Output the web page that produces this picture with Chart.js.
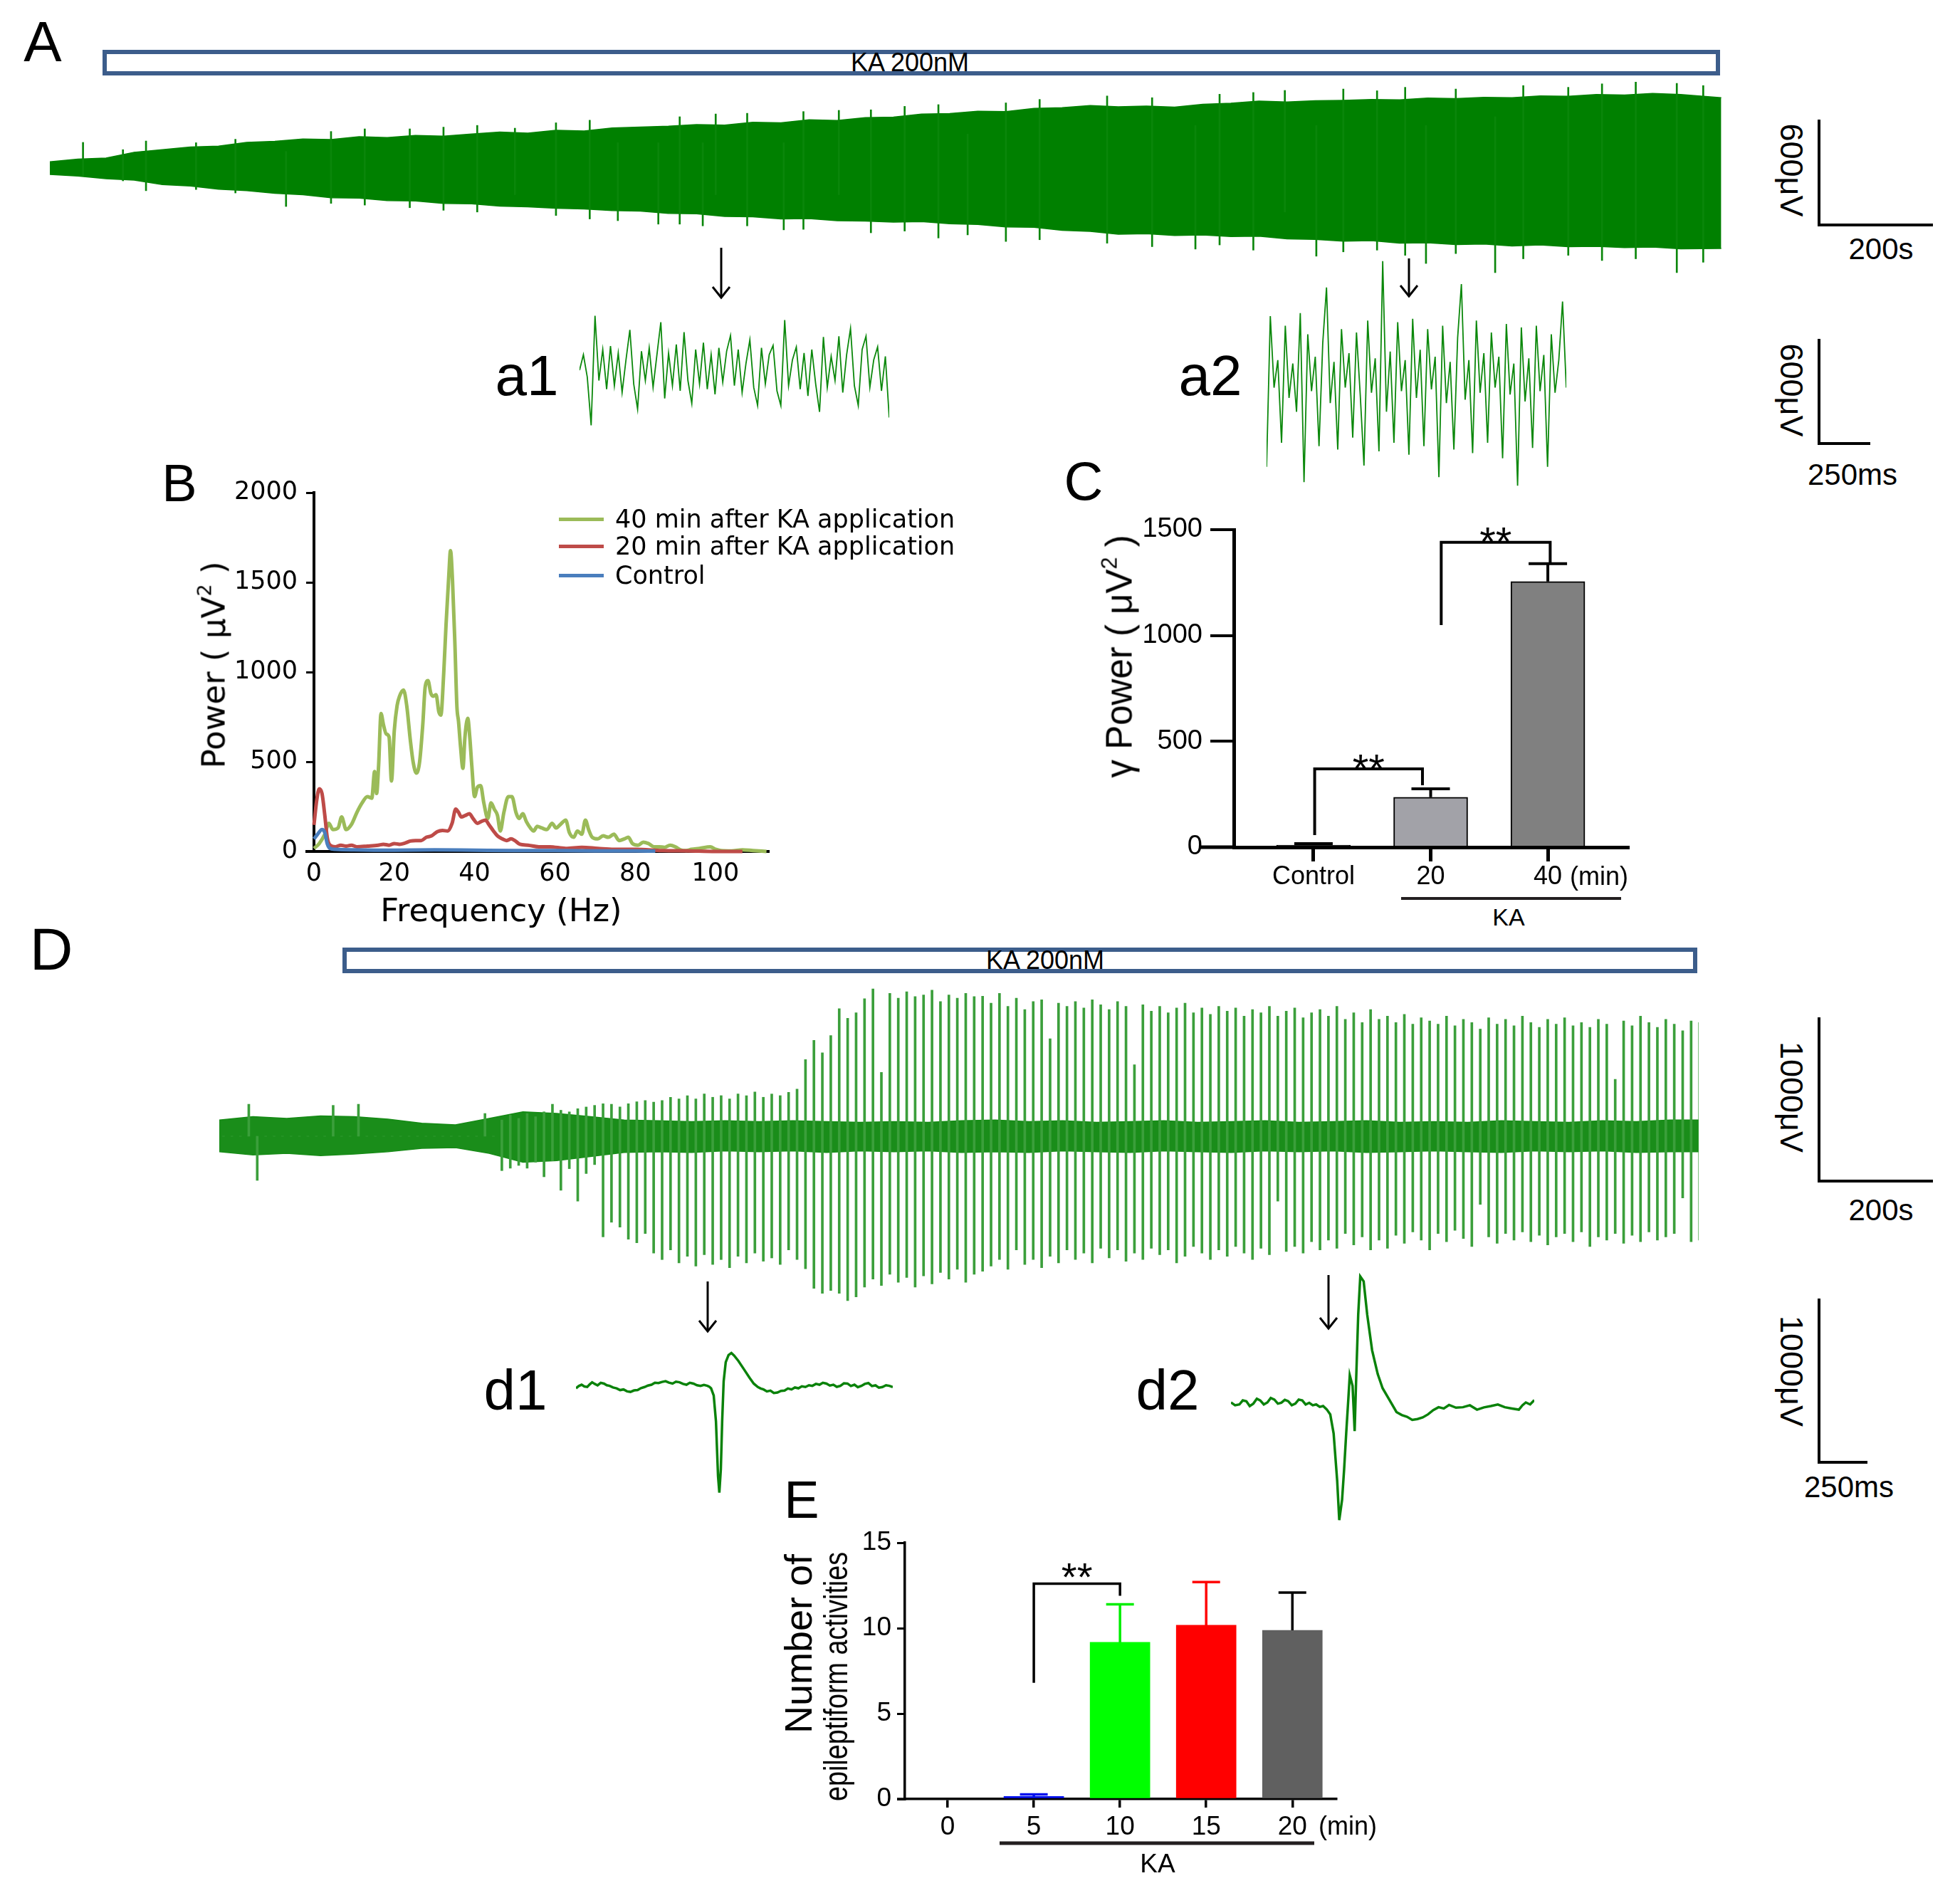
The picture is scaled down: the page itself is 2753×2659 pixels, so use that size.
<!DOCTYPE html>
<html>
<head>
<meta charset="utf-8">
<title>Kainate-induced gamma oscillations and epileptiform activity</title>
<script src="https://cdn.jsdelivr.net/npm/chart.js@4.4.1/dist/chart.umd.min.js"></script>
<style>
  html, body { margin:0; padding:0; background:#fff; }
  body { position:relative; width:2753px; height:2659px; overflow:hidden; }
  canvas { position:absolute; }
  .lbl { position:absolute; white-space:nowrap; line-height:1; color:#000; font-family:"Liberation Sans", Arial, sans-serif; }
  .kabox { position:absolute; box-sizing:border-box; border:6px solid #3c5d8b; background:#fff; }
  svg.ov { position:absolute; left:0; top:0; }
</style>
</head>
<body>
<script>
// ================= DATA =================
// Panel A : envelope of the 50-min field recording (uV), sampled every 50 s
const aTime  = [0,50,100,150,200,250,300,350,400,450,500,550,600,650,700,750,800,850,900,950,1000,1050,1100,1150,1200,1250,1300,1350,1400,1450,1500,1550,1600,1650,1700,1750,1800,1850,1900,1950,2000,2050,2100,2150,2200,2250,2300,2350,2400,2450,2500,2550,2600,2650,2700,2750,2800,2850,2900,2972];
const aUpper = [40,55,62,95,110,125,130,152,158,172,168,185,180,192,188,200,212,205,222,218,235,240,245,255,252,268,265,282,278,295,298,315,318,332,330,348,352,365,358,362,355,372,378,390,385,392,395,400,398,408,405,412,410,420,418,428,425,435,428,410];
const aLower = [-33,-42,-58,-66,-92,-100,-118,-126,-142,-150,-168,-170,-184,-186,-200,-203,-216,-220,-228,-232,-242,-245,-258,-260,-275,-278,-290,-288,-300,-302,-308,-305,-318,-322,-336,-338,-356,-362,-378,-375,-385,-382,-392,-390,-405,-408,-418,-415,-430,-428,-438,-435,-446,-440,-450,-448,-455,-452,-462,-460];
// protruding deflections of trace A (s, uV)
const aSpikeTime = [59,130,171,260,330,420,500,560,640,700,760,827,900,960,1010,1082,1120,1161,1184,1240,1305,1340,1403,1460,1520,1580,1632,1700,1760,1880,1960,2037,2080,2140,2196,2252,2300,2360,2410,2447,2500,2570,2620,2700,2760,2820,2893,2940];
const aSpikeLow  = [-40,-70,-127,-120,-140,-218,-200,-210,-225,-240,-250,-150,-270,-290,-300,-320,-320,-330,-150,-330,-353,-350,-150,-370,-360,-400,-382,-420,-410,-430,-450,-464,-440,-470,-250,-505,-480,-470,-500,-547,-490,-600,-520,-500,-530,-520,-600,-540];
const aSpikeHigh = [152,110,160,150,170,100,215,230,230,240,250,234,265,280,150,150,300,150,316,320,150,330,337,340,360,370,200,380,400,420,410,250,430,440,452,250,460,450,470,250,460,300,480,470,490,500,493,480];
// a1 / a2 : successive peaks and troughs of the expanded traces (uV)
const a1Trace = [0,90,-40,-320,316,-60,120,-110,140,-90,100,-130,60,234,-80,-226,110,-60,130,-100,90,279,-164,100,-90,150,-120,221,-60,-193,120,-80,160,-110,90,-140,130,-70,110,201,-90,120,-130,40,176,-100,-205,130,-80,90,144,-120,-205,291,-90,60,135,-110,100,-150,120,-80,-242,193,-100,80,-60,197,-130,90,242,-90,-205,120,197,-100,60,135,-120,80,-275];
const a2Trace = [-520,356,-60,100,-380,300,-120,80,-200,373,-609,250,-80,120,-400,200,522,-150,90,-420,280,-60,140,-350,260,-100,-513,330,-90,110,-430,675,-200,150,-380,320,-80,100,-450,340,-120,160,-400,280,-70,120,-580,300,-150,90,-420,230,542,-130,100,-440,330,-90,140,-380,260,-60,120,-470,310,-100,80,-630,290,-140,110,-410,300,-80,130,-520,250,-90,100,440,-60];

// Panel B : power spectra
const bSeriesLabels = ['Control', '20 min after KA application', '40 min after KA application'];
const greenHz = [0.0,1.3,2.7,3.7,4.7,6.0,6.9,8.0,9.3,10.7,12.0,13.3,14.4,15.1,15.6,16.1,16.7,17.3,18.0,18.7,19.3,20.0,20.7,21.3,22.3,23.1,24.0,24.7,25.5,26.3,27.1,27.7,28.4,29.1,29.7,30.4,31.1,31.6,32.3,32.9,33.6,34.0,34.5,35.1,35.6,36.0,36.5,37.1,37.6,38.3,38.8,39.3,40.0,40.7,41.5,42.3,43.3,44.1,44.9,45.7,46.4,47.3,48.4,49.3,50.3,51.1,52.0,52.9,53.9,54.7,55.6,56.7,58.0,59.3,60.3,61.3,62.7,63.6,64.7,65.6,66.7,67.6,68.4,69.3,70.7,72.0,73.3,74.7,76.0,77.3,78.3,79.3,80.7,82.0,83.3,84.7,86.0,87.3,88.7,90.0,91.3,92.7,94.0,96.0,98.7,100.0,101.3,104.0,106.7,109.3,112.7];
const greenPower = [17,44,96,157,122,131,192,122,149,218,271,306,297,445,323,480,769,707,655,638,393,673,813,865,900,813,620,498,437,498,708,917,952,882,865,874,778,760,988,1267,1546,1677,1511,1156,807,725,585,463,638,742,638,480,306,358,367,271,184,271,236,201,114,218,306,306,218,184,210,166,131,114,140,131,122,157,131,149,175,105,79,114,96,175,122,79,70,87,79,96,61,70,79,44,35,52,44,26,26,23,35,26,9,5,12,17,26,12,5,3,9,5,0];
const redHz = [0.0,0.7,1.3,2.0,2.7,3.3,4.0,5.3,6.7,8.0,9.3,10.7,13.3,16.0,17.3,18.7,20.0,21.3,22.7,24.0,25.3,26.7,28.0,29.3,30.7,32.0,33.3,34.4,35.3,36.0,36.7,37.7,38.7,39.6,40.7,41.6,42.7,43.6,44.7,45.7,46.9,48.0,49.1,50.0,51.3,53.3,56.0,58.7,62.7,66.7,70.7,74.7,80.0,86.7,93.3,100.0,106.7];
const redPower = [148,288,349,323,201,79,35,26,35,30,35,26,30,35,40,35,44,40,47,58,61,61,79,87,110,117,114,157,236,218,192,201,210,184,157,166,175,149,114,87,70,61,70,61,40,35,26,26,17,23,17,12,12,5,3,0,0];
const blueHz = [0.0,0.9,2.0,2.7,3.3,4.0,5.3,10.0,20.0,30.0,40.0,50.0,60.0,70.0,80.0,85.0];
const bluePower = [70,96,122,105,44,17,12,9,7,9,7,5,5,3,3,2];

// Panel C : gamma power (uV^2), mean and SEM
const cCategories = ['Control', '20', '40'];
const cPower = [10, 236, 1255];
const cSEM = [7, 40, 84];

// Panel D : baseline band (uV) every 60 s and epileptiform discharges per 15-s bin (uV)
const dBandTime = [0,60,120,180,240,300,360,420,480,540,600,660,720,780,840,900,960,1020,1080,1140,1200,1260,1320,1380,1440,1500,1560,1620,1680,1740,1800,1860,1920,1980,2040,2100,2160,2220,2280,2340,2400,2460,2520,2580,2640];
const dBandHigh = [100,120,110,125,120,105,80,70,110,150,140,120,100,95,90,95,90,95,90,85,90,85,95,100,90,95,85,90,95,85,90,95,85,90,95,85,90,85,95,90,85,95,90,100,100];
const dBandLow = [-95,-115,-105,-120,-110,-95,-75,-70,-105,-160,-150,-125,-100,-95,-100,-90,-95,-90,-100,-90,-95,-90,-100,-95,-100,-90,-95,-100,-90,-95,-100,-90,-95,-90,-100,-95,-90,-95,-100,-90,-95,-90,-100,-95,-95];
const dSpikeUp = [
  0,0,0,197,0,0,0,0,0,0,
  0,0,0,190,0,0,197,0,0,0,
  0,0,0,0,0,0,0,0,0,0,
  0,140,0,100,130,110,140,120,150,197,
  160,150,170,180,190,200,197,180,200,212,
  220,210,220,240,230,250,230,260,240,250,
  230,260,250,272,240,260,250,270,290,472,
  590,514,620,786,726,760,847,907,393,880,
  850,890,860,870,900,830,870,850,880,860,
  862,820,880,800,850,780,830,840,600,820,
  800,830,790,840,810,780,830,800,440,810,
  770,800,760,790,820,760,790,750,800,770,
  790,740,780,760,800,740,770,790,730,760,
  780,740,800,720,760,700,780,720,740,700,
  750,690,730,710,690,740,680,720,700,660,
  730,690,720,680,740,700,670,720,690,730,
  680,700,670,720,690,350,710,680,740,700,
  670,720,690,650,710,700];
const dSpikeDown = [
  0,0,0,0,-272,0,0,0,0,0,
  0,0,0,0,0,0,0,0,0,0,
  0,0,0,0,0,0,0,0,0,0,
  0,0,0,-212,-197,-180,-197,-160,-250,-151,
  -333,-200,-400,-230,-175,-620,-530,-560,-635,-657,
  -600,-720,-760,-700,-780,-740,-800,-730,-790,-760,
  -810,-740,-780,-720,-770,-750,-790,-700,-760,-816,
  -937,-968,-950,-968,-1013,-990,-930,-880,-920,-850,
  -900,-870,-930,-860,-910,-840,-880,-820,-900,-850,
  -832,-800,-760,-820,-700,-790,-760,-810,-740,-780,
  -700,-760,-720,-780,-690,-750,-700,-770,-720,-760,
  -690,-730,-700,-780,-740,-680,-720,-760,-700,-740,
  -680,-720,-760,-690,-730,-400,-710,-680,-720,-650,
  -700,-640,-690,-600,-670,-620,-700,-640,-690,-610,
  -660,-590,-640,-700,-600,-650,-580,-630,-680,-420,
  -620,-660,-600,-640,-590,-650,-610,-670,-620,-600,
  -650,-590,-680,-620,-640,-600,-660,-610,-650,-590,
  -640,-620,-600,-380,-650,-640];
const dBinSeconds = 15;
// d1 / d2 : single discharges (ms, uV)
const d1Time = [0,15,30,45,60,73,86,100,115,132,149,164,179,197,216,235,253,272,290,309,328,346,365,383,402,420,439,458,477,495,514,532,551,570,588,606,625,644,663,681,700,710,719,733,745,756,763,771,778,786,797,812,827,841,864,894,923,946,968,983,998,1016,1035,1053,1072,1091,1110,1128,1147,1165,1184,1202,1221,1240,1258,1277,1296,1314,1333,1351,1370,1388,1407,1426,1445,1463,1482,1500,1519,1537,1556,1575,1594,1612,1631,1650,1668,1686];
const d1Volt = [-9,5,13,2,-1,15,28,18,9,25,20,10,6,-4,-9,-20,-16,-28,-31,-22,-20,-8,-1,8,13,25,23,30,35,26,20,32,28,18,13,25,20,10,6,12,6,0,-9,-53,-213,-550,-652,-506,-213,35,152,196,208,193,160,108,57,20,-1,-10,-16,-28,-23,-38,-35,-25,-23,-10,-16,-4,-9,3,-1,10,6,18,13,25,20,8,13,0,6,22,20,5,13,-2,6,18,23,5,9,-5,-1,10,6,-1];
const d2Time = [0,22,45,63,82,100,119,138,156,175,194,212,231,250,268,287,305,324,343,361,380,398,417,436,454,473,491,510,529,547,566,577,592,603,614,625,633,648,659,666,678,689,707,726,752,782,808,845,882,910,938,966,994,1022,1050,1078,1106,1134,1162,1199,1236,1273,1311,1348,1385,1422,1459,1497,1534,1553,1571,1594,1616];
const d2Volt = [22,5,10,35,30,0,15,45,35,10,22,50,40,15,20,38,30,5,15,40,35,10,20,5,10,-5,0,-20,-51,-168,-461,-702,-578,-388,-168,37,190,124,-154,124,563,798,768,563,344,197,110,37,-37,-55,-66,-85,-80,-70,-51,-25,-7,-15,7,-10,-7,5,-22,-8,0,10,-7,-15,-22,5,22,10,37];

// Panel E : number of epileptiform activities, mean and SEM
const eCategories = ['0', '5', '10', '15', '20'];
const eCount = [0, 0.15, 9.17, 10.17, 9.87];
const eSEM = [0, 0.12, 2.23, 2.53, 2.21];

// ================= HELPERS =================
const SANS = '"Liberation Sans", Arial, sans-serif';
const VERD = '"DejaVu Sans", Verdana, sans-serif';

function makeCanvas(left, top, w, h) {
  const c = document.createElement('canvas');
  c.width = w; c.height = h;
  c.style.left = left + 'px'; c.style.top = top + 'px';
  c.style.width = w + 'px'; c.style.height = h + 'px';
  document.body.appendChild(c);
  return c;
}
function label(html, x, y, size, opt) {
  opt = opt || {};
  const d = document.createElement('div');
  d.className = 'lbl';
  d.innerHTML = html;
  d.style.left = x + 'px'; d.style.top = y + 'px';
  d.style.fontSize = size + 'px';
  if (opt.family) d.style.fontFamily = opt.family;
  if (opt.lineHeight) { d.style.lineHeight = opt.lineHeight + 'px'; }
  if (opt.align) d.style.textAlign = opt.align;
  const tr = opt.anchor === 'left' ? 'translate(0,-50%)' : 'translate(-50%,-50%)';
  d.style.transform = tr + (opt.rot ? ' rotate(' + opt.rot + 'deg)' : '') + (opt.squeeze ? ' scaleX(' + opt.squeeze + ')' : '');
  document.body.appendChild(d);
  return d;
}
function box(cls, left, top, w, h) {
  const d = document.createElement('div');
  d.className = cls;
  d.style.left = left + 'px'; d.style.top = top + 'px';
  d.style.width = w + 'px'; d.style.height = h + 'px';
  document.body.appendChild(d);
  return d;
}
const SUP2 = '<sup style="font-size:0.6em;vertical-align:0.7em;line-height:0">2</sup>';

const basePlugins = { legend: { display: false }, tooltip: { enabled: false } };
function traceOptions(xType, xMin, xMax, yMin, yMax) {
  const x = { type: xType, display: false, offset: false };
  if (xMin !== undefined) { x.min = xMin; x.max = xMax; }
  return {
    responsive: false, animation: false, devicePixelRatio: 1, events: [],
    layout: { padding: 0 },
    plugins: basePlugins,
    scales: { x: x, y: { type: 'linear', min: yMin, max: yMax, display: false } }
  };
}

// plugin: error bars, significance brackets, axis-line extension
const annotPlugin = {
  id: 'annot',
  afterDraw(chart) {
    const o = chart.options.plugins.annot;
    if (!o) return;
    const ctx = chart.ctx, ca = chart.chartArea, x = chart.scales.x, y = chart.scales.y;
    ctx.save();
    if (o.axisExt) {
      const py = y.getPixelForValue(0);
      ctx.strokeStyle = '#000'; ctx.lineWidth = o.axisExt.width;
      ctx.beginPath(); ctx.moveTo(ca.left - o.axisExt.left, py); ctx.lineTo(ca.left, py); ctx.stroke();
    }
    (o.errors || []).forEach(function (e, i) {
      if (!e) return;
      const px = x.getPixelForValue(i);
      const y0 = y.getPixelForValue(o.values[i]);
      const y1 = y.getPixelForValue(o.values[i] + e);
      ctx.strokeStyle = o.errColors[i]; ctx.lineWidth = o.errWidth; ctx.lineCap = 'butt';
      ctx.beginPath(); ctx.moveTo(px, y0); ctx.lineTo(px, y1);
      ctx.moveTo(px - o.cap / 2, y1); ctx.lineTo(px + o.cap / 2, y1); ctx.stroke();
    });
    (o.brackets || []).forEach(function (b) {
      const x1 = x.getPixelForValue(b.x1), x2 = x.getPixelForValue(b.x2);
      const y1 = y.getPixelForValue(b.y1), yt = y.getPixelForValue(b.yTop), y2 = y.getPixelForValue(b.y2);
      ctx.strokeStyle = '#000'; ctx.lineWidth = o.bracketWidth; ctx.lineJoin = 'miter';
      ctx.beginPath(); ctx.moveTo(x1, y1); ctx.lineTo(x1, yt); ctx.lineTo(x2, yt); ctx.lineTo(x2, y2); ctx.stroke();
      ctx.fillStyle = '#000';
      ctx.font = o.starSize + 'px ' + SANS;
      ctx.textAlign = 'center'; ctx.textBaseline = 'alphabetic';
      ctx.fillText(b.text, (x1 + x2) / 2, yt - o.starGap + 0.58 * o.starSize);
    });
    ctx.restore();
  }
};

// ================= PANEL A =================
box('kabox', 144, 70, 2272, 36);
label('KA 200nM', 1278, 88, 36);
label('A', 60, 59, 80);

new Chart(makeCanvas(70, 100, 2350, 300), {
  type: 'line',
  data: { datasets: [
    { type: 'bar', data: aSpikeTime.map((t, i) => ({ x: t, y: [aSpikeLow[i], aSpikeHigh[i]] })),
      backgroundColor: '#0a860a', barThickness: 2, borderWidth: 0 },
    { data: aTime.map((t, i) => ({ x: t, y: aUpper[i] })), borderColor: '#008000', borderWidth: 1.5,
      pointRadius: 0, tension: 0, fill: '+1', backgroundColor: '#008000' },
    { data: aTime.map((t, i) => ({ x: t, y: aLower[i] })), borderColor: '#008000', borderWidth: 1.5,
      pointRadius: 0, tension: 0, fill: false }
  ] },
  options: traceOptions('linear', 0, 2975, -670, 563)
});

label('a1', 740, 528, 80);
label('a2', 1700, 528, 80);
new Chart(makeCanvas(814, 430, 435, 180), {
  type: 'line',
  data: { labels: a1Trace.map((_, i) => i), datasets: [
    { data: a1Trace, borderColor: '#0b880b', borderWidth: 1.8, pointRadius: 0, tension: 0 } ] },
  options: traceOptions('category', undefined, undefined, -372, 372)
});
new Chart(makeCanvas(1779, 340, 421, 380), {
  type: 'line',
  data: { labels: a2Trace.map((_, i) => i), datasets: [
    { data: a2Trace, borderColor: '#0b880b', borderWidth: 1.8, pointRadius: 0, tension: 0 } ] },
  options: traceOptions('category', undefined, undefined, -786, 786)
});

label('200s', 2642, 350, 42);
label('600μV', 2516, 239, 45, { rot: 90 });
label('250ms', 2602, 667, 42);
label('600μV', 2516, 548, 45, { rot: 90 });

// ================= PANEL B =================
label('B', 252, 679, 74);
const bColors = ['#4a7ebd', '#be4b48', '#9bbb59'];
const bChart = new Chart(makeCanvas(250, 640, 850, 680), {
  type: 'line',
  data: { datasets: [
    { label: bSeriesLabels[0], data: blueHz.map((f, i) => ({ x: f, y: bluePower[i] })), borderColor: bColors[0] },
    { label: bSeriesLabels[1], data: redHz.map((f, i) => ({ x: f, y: redPower[i] })), borderColor: bColors[1] },
    { label: bSeriesLabels[2], data: greenHz.map((f, i) => ({ x: f, y: greenPower[i] })), borderColor: bColors[2] }
  ] },
  options: {
    responsive: false, animation: false, devicePixelRatio: 1, events: [],
    layout: { padding: { left: 0, top: 52, right: 20, bottom: 0 } },
    elements: { point: { radius: 0 }, line: { borderWidth: 5, cubicInterpolationMode: 'monotone' } },
    datasets: { line: { clip: false } },
    scales: {
      x: { type: 'linear', min: 0, max: 113.3, afterFit: s => { s.height = 124; },
           border: { display: true, color: '#000', width: 4 },
           grid: { display: false, drawTicks: false },
           ticks: { stepSize: 20, includeBounds: false, color: '#000', padding: 11, maxRotation: 0,
                    font: { family: VERD, size: 35 }, callback: v => String(v) } },
      y: { type: 'linear', min: 0, max: 2000, afterFit: s => { s.width = 191; },
           border: { display: true, color: '#000', width: 4 },
           grid: { display: true, drawOnChartArea: false, drawTicks: true, tickLength: 11, color: '#000', lineWidth: 3 },
           ticks: { stepSize: 500, color: '#000', padding: 12, font: { family: VERD, size: 35 }, callback: v => String(v) } }
    },
    plugins: Object.assign({}, basePlugins, { annot: { axisExt: { left: 12, width: 4 } } })
  },
  plugins: [annotPlugin]
});
label('Power ( μV' + SUP2 + ' )', 300, 934, 45, { family: VERD, rot: -90 });
label('Frequency (Hz)', 704, 1278, 45, { family: VERD });
// legend built from the chart's datasets (top row = last dataset)
const legendRows = [729, 767, 808];
bChart.data.datasets.slice().reverse().forEach(function (ds, k) {
  const sw = document.createElement('div');
  sw.style.cssText = 'position:absolute;left:785px;width:63px;height:5px;background:' + ds.borderColor + ';top:' + (legendRows[k] - 2.5) + 'px';
  document.body.appendChild(sw);
  label(ds.label, 864, legendRows[k], 35, { family: VERD, anchor: 'left' });
});

// ================= PANEL C =================
label('C', 1522, 676, 76);
new Chart(makeCanvas(1600, 700, 700, 560), {
  type: 'bar',
  data: { datasets: [
    { data: cPower.map((v, i) => ({ x: i, y: v })), backgroundColor: ['#1c1c1c', '#a2a2a8', '#808080'],
      borderColor: '#000', borderWidth: 2, barThickness: 104 } ] },
  options: {
    responsive: false, animation: false, devicePixelRatio: 1, events: [],
    layout: { padding: { left: 0, top: 44, right: 14, bottom: 0 } },
    scales: {
      x: { type: 'linear', min: -0.68, max: 2.68, offset: false,
           afterBuildTicks: a => { a.ticks = cCategories.map((_, i) => ({ value: i })); },
           afterFit: s => { s.height = 70; },
           border: { display: true, color: '#000', width: 5 },
           grid: { display: true, offset: false, drawOnChartArea: false, drawTicks: true, tickLength: 20, color: '#000', lineWidth: 5 },
           ticks: { color: '#000', padding: 0, autoSkip: false, maxRotation: 0, font: { family: SANS, size: 36 },
                    callback: v => cCategories[v] } },
      y: { type: 'linear', min: 0, max: 1500, afterFit: s => { s.width = 133; },
           border: { display: true, color: '#000', width: 5 },
           grid: { display: true, drawOnChartArea: false, drawTicks: true, tickLength: 33, color: '#000', lineWidth: 4 },
           ticks: { stepSize: 500, color: '#000', padding: 11, font: { family: SANS, size: 38 }, callback: v => String(v) } }
    },
    plugins: Object.assign({}, basePlugins, { annot: {
      axisExt: { left: 48, width: 5 },
      values: cPower, errors: cSEM, errColors: ['#000', '#000', '#000'], errWidth: 4, cap: 54,
      brackets: [ { x1: 0.01, x2: 0.93, y1: 57, yTop: 370, y2: 293, text: '**' },
                  { x1: 1.09, x2: 2.02, y1: 1049, yTop: 1440, y2: 1345, text: '**' } ],
      bracketWidth: 4, starSize: 58, starGap: 14 } })
  },
  plugins: [annotPlugin]
});
label('γ Power ( μV' + SUP2 + ' )', 1572, 922, 51, { rot: -90 });
label('(min)', 2205, 1231, 36, { anchor: 'left' });
label('KA', 2119, 1288, 34);

// ================= PANEL D =================
label('D', 72, 1333, 84);
box('kabox', 481, 1331, 1903, 36);
label('KA 200nM', 1468, 1349, 36);
new Chart(makeCanvas(308, 1370, 2078, 480), {
  type: 'line',
  data: { datasets: [
    { type: 'bar', data: dSpikeUp.map((u, i) => ({ x: i * dBinSeconds + dBinSeconds / 2, y: [dSpikeDown[i], u] })),
      backgroundColor: '#3b9f3b', barThickness: 3, borderWidth: 0 },
    { data: dBandTime.map((t, i) => ({ x: t, y: dBandHigh[i] })), borderColor: '#158a15', borderWidth: 1.5,
      pointRadius: 0, tension: 0, fill: '+1', backgroundColor: '#1a8d1a' },
    { data: dBandTime.map((t, i) => ({ x: t, y: dBandLow[i] })), borderColor: '#158a15', borderWidth: 1.5,
      pointRadius: 0, tension: 0, fill: false }
  ] },
  options: traceOptions('linear', 0, 2631, -1114, 991)
});
label('d1', 724, 1953, 80);
label('d2', 1640, 1953, 80);
new Chart(makeCanvas(809, 1870, 445, 250), {
  type: 'line',
  data: { datasets: [ { data: d1Time.map((t, i) => ({ x: t, y: d1Volt[i] })), borderColor: '#0a820a',
    borderWidth: 3.5, pointRadius: 0, tension: 0 } ] },
  options: traceOptions('linear', 0, 1686, -754, 342)
});
new Chart(makeCanvas(1729, 1770, 426, 390), {
  type: 'line',
  data: { datasets: [ { data: d2Time.map((t, i) => ({ x: t, y: d2Volt[i] })), borderColor: '#0a820a',
    borderWidth: 3.5, pointRadius: 0, tension: 0 } ] },
  options: traceOptions('linear', 0, 1616, -811, 899)
});
label('200s', 2642, 1700, 42);
label('1000μV', 2516, 1541, 45, { rot: 90 });
label('250ms', 2597, 2089, 42);
label('1000μV', 2516, 1926, 45, { rot: 90 });

// ================= PANEL E =================
label('E', 1126, 2107, 74);
new Chart(makeCanvas(1190, 2120, 710, 480), {
  type: 'bar',
  data: { datasets: [
    { data: eCount.map((v, i) => ({ x: i, y: v })),
      backgroundColor: ['#000000', '#0010ee', '#00ff00', '#ff0000', '#606060'], borderWidth: 0, barThickness: 84 } ] },
  options: {
    responsive: false, animation: false, devicePixelRatio: 1, events: [],
    layout: { padding: { left: 0, top: 47, right: 23, bottom: 0 } },
    scales: {
      x: { type: 'linear', min: -0.496, max: 4.51, offset: false,
           afterBuildTicks: a => { a.ticks = eCategories.map((_, i) => ({ value: i })); },
           afterFit: s => { s.height = 73; },
           border: { display: true, color: '#000', width: 3.5 },
           grid: { display: true, offset: false, drawOnChartArea: false, drawTicks: true, tickLength: 12, color: '#000', lineWidth: 3.5 },
           ticks: { color: '#000', padding: 6, autoSkip: false, maxRotation: 0, font: { family: SANS, size: 37 },
                    callback: v => eCategories[v] } },
      y: { type: 'linear', min: 0, max: 15, afterFit: s => { s.width = 81; },
           border: { display: true, color: '#000', width: 3.5 },
           grid: { display: true, drawOnChartArea: false, drawTicks: true, tickLength: 11, color: '#000', lineWidth: 3 },
           ticks: { stepSize: 5, color: '#000', padding: 8, font: { family: SANS, size: 37 }, callback: v => String(v) } }
    },
    plugins: Object.assign({}, basePlugins, { annot: {
      axisExt: { left: 11, width: 3.5 },
      values: eCount, errors: eSEM, errColors: ['#000', '#0010ee', '#00ee00', '#ff0000', '#000'], errWidth: 3.5, cap: 39,
      brackets: [ { x1: 1, x2: 2, y1: 6.8, yTop: 12.6, y2: 11.9, text: '**' } ],
      bracketWidth: 3.5, starSize: 56, starGap: 23 } })
  },
  plugins: [annotPlugin]
});
label('Number of', 1121, 2309, 54, { rot: -90 });
label('epileptiform activities', 1174, 2355, 46, { rot: -90, squeeze: 0.82 });
label('(min)', 1852, 2565, 36, { anchor: 'left' });
label('KA', 1626, 2617, 37);

// ================= ARROWS, SCALE BARS, KA UNDERLINES =================
const svg = '<svg class="ov" width="2753" height="2659" xmlns="http://www.w3.org/2000/svg">' +
  '<g stroke="#000" fill="none" stroke-width="3">' +
  '<line x1="1013" y1="348" x2="1013" y2="418"/><polyline points="1001,403 1013,418 1025,403"/>' +
  '<line x1="1979" y1="363" x2="1979" y2="416"/><polyline points="1967,401 1979,416 1991,401"/>' +
  '<line x1="994" y1="1800" x2="994" y2="1870"/><polyline points="982,1855 994,1870 1006,1855"/>' +
  '<line x1="1866" y1="1791" x2="1866" y2="1866"/><polyline points="1854,1851 1866,1866 1878,1851"/>' +
  '</g>' +
  '<g stroke="#000" fill="none" stroke-width="4" stroke-linecap="square">' +
  '<polyline points="2555,170 2555,316 2713,316"/>' +
  '<polyline points="2555,478 2555,623 2625,623"/>' +
  '<polyline points="2555,1431 2555,1659 2713,1659"/>' +
  '<polyline points="2555,1826 2555,2054 2621,2054"/>' +
  '</g>' +
  '<line x1="1968" y1="1262" x2="2277" y2="1262" stroke="#231f20" stroke-width="4"/>' +
  '<line x1="1404" y1="2589" x2="1846" y2="2589" stroke="#231f20" stroke-width="5"/>' +
  '</svg>';
document.body.insertAdjacentHTML('beforeend', svg);
</script>
</body>
</html>
